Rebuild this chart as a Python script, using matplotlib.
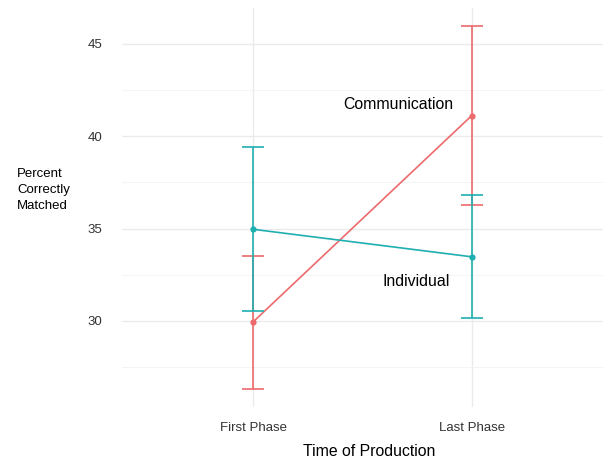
import numpy as np
import matplotlib.pyplot as plt

plt.rcParams['font.family'] = ['Liberation Sans', 'DejaVu Sans']

# data
phases = ["First Phase", "Last Phase"]
groups = ["Communication", "Individual"]
means = {"Communication": [29.95, 41.12], "Individual": [34.96, 33.47]}
upper = {"Communication": [33.53, 45.96], "Individual": [39.40, 36.81]}
lower = {"Communication": [26.32, 36.30], "Individual": [30.52, 30.15]}
colors = {"Communication": "#EC6A6C", "Individual": "#1FAFB0"}
label_pos = {"Communication": (1.663, 41.73), "Individual": (1.744, 32.12)}

fig = plt.figure(figsize=(6.03, 4.61), dpi=100)
ax = fig.add_axes([122 / 603, 54 / 461, 481 / 603, 399 / 461])

x = np.arange(1, len(phases) + 1)
for g in groups:
    c = colors[g]
    m = np.array(means[g])
    ax.errorbar(x, m, yerr=[m - np.array(lower[g]), np.array(upper[g]) - m],
                fmt='none', ecolor=c, elinewidth=1.2, capsize=0, zorder=3)
    for xi, lo, hi in zip(x, lower[g], upper[g]):
        ax.hlines([lo, hi], xi - 0.05, xi + 0.05, color=c, lw=1.2, zorder=3)
    ax.plot(x, m, color=c, lw=1.2, zorder=3)
    ax.plot(x, m, 'o', color=c, ms=4.5, mec='none', zorder=4)
    tx, ty = label_pos[g]
    ax.text(tx, ty, g, ha='center', va='center', fontsize=11.4, color='black')

ax.set_xlim(0.4, 2.6)
ax.set_ylim(25.34, 46.94)
ax.set_xticks(x)
ax.set_xticklabels(phases)
ax.set_yticks([30, 35, 40, 45])
ax.set_yticks([27.5, 32.5, 37.5, 42.5], minor=True)
ax.tick_params(axis='both', which='both', length=0, labelsize=9.5, labelcolor='#333333')
ax.tick_params(axis='x', pad=11)
ax.tick_params(axis='y', pad=14)
ax.grid(True, which='major', color='#EBEBEB', lw=1.0)
ax.grid(True, which='minor', axis='y', color='#F2F2F2', lw=0.6)
ax.set_axisbelow(True)
for s in ax.spines.values():
    s.set_visible(False)

ax.set_xlabel("Time of Production", fontsize=11.4)
ax.xaxis.set_label_coords(0.513, -37 / 399)
fig.text(17 / 603, 1 - 190 / 461, "Percent\nCorrectly\nMatched", ha='left', va='center',
         fontsize=9.5, linespacing=1.45)

fig.savefig("out.png", dpi=100)
